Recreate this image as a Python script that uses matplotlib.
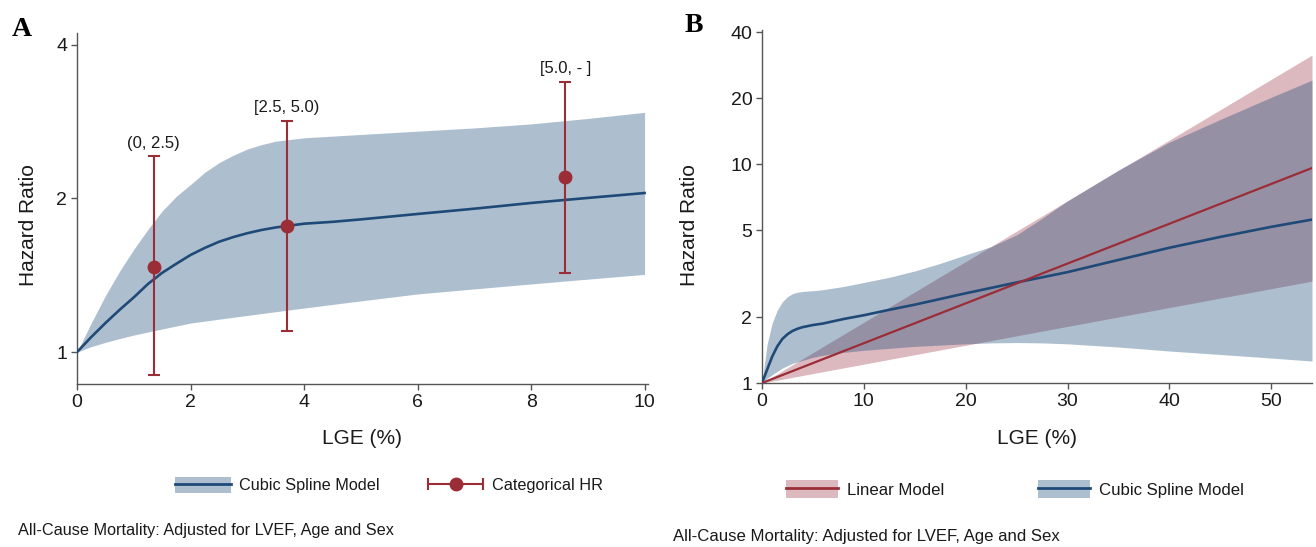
import numpy as np
import matplotlib
matplotlib.use("Agg")
import matplotlib.pyplot as plt
from matplotlib.lines import Line2D
from matplotlib.patches import Patch
from matplotlib.legend_handler import HandlerLine2D
from matplotlib.ticker import FixedLocator, FixedFormatter, NullLocator

# ---------------- Panel A data ----------------
spline_x_a = [0, 0.25, 0.5, 0.75, 1.0, 1.25, 1.5, 1.75, 2.0, 2.25, 2.5, 2.75, 3.0, 3.25,
              3.5, 3.75, 4.0, 4.5, 5.0, 6.0, 7.0, 8.0, 9.0, 10.0]
spline_hr_a = [1.00, 1.07, 1.14, 1.21, 1.28, 1.36, 1.43, 1.49, 1.55, 1.60, 1.645, 1.68, 1.71, 1.735,
               1.755, 1.77, 1.785, 1.80, 1.82, 1.865, 1.91, 1.96, 2.005, 2.05]
spline_hi_a = [1.00, 1.14, 1.29, 1.44, 1.59, 1.74, 1.89, 2.02, 2.13, 2.25, 2.35, 2.43, 2.50, 2.55,
               2.59, 2.61, 2.63, 2.65, 2.67, 2.71, 2.75, 2.80, 2.87, 2.95]
spline_lo_a = [1.00, 1.025, 1.045, 1.063, 1.08, 1.095, 1.11, 1.125, 1.14, 1.15, 1.16, 1.17, 1.18, 1.19,
               1.20, 1.21, 1.22, 1.24, 1.26, 1.30, 1.33, 1.36, 1.39, 1.42]

cat_x = [1.35, 3.7, 8.6]
cat_hr = [1.47, 1.77, 2.20]
cat_lo = [0.90, 1.10, 1.43]
cat_hi = [2.42, 2.84, 3.39]
cat_labels = ["(0, 2.5)", "[2.5, 5.0)", "[5.0, - ]"]

yticks_a = [1, 2, 4]
xticks_a = [0, 2, 4, 6, 8, 10]

# ---------------- Panel B data ----------------
spline_x_b = [0, 0.5, 1, 1.5, 2, 2.5, 3, 3.5, 4, 5, 6, 8, 10, 12.5, 15, 17.5, 20, 22.5, 25,
              27.5, 30, 35, 40, 45, 50, 54]
spline_hr_b = [1.00, 1.15, 1.32, 1.47, 1.59, 1.67, 1.73, 1.77, 1.80, 1.84, 1.87, 1.96, 2.04, 2.16,
               2.28, 2.42, 2.57, 2.72, 2.88, 3.04, 3.21, 3.65, 4.15, 4.65, 5.17, 5.58]
spline_hi_b = [1.00, 1.50, 1.88, 2.15, 2.35, 2.48, 2.56, 2.60, 2.62, 2.64, 2.67, 2.76, 2.88, 3.04,
               3.25, 3.52, 3.85, 4.20, 4.75, 5.65, 6.8, 9.4, 12.6, 16.0, 20.2, 24.2]
spline_lo_b = [1.00, 1.05, 1.09, 1.13, 1.17, 1.20, 1.23, 1.25, 1.27, 1.31, 1.34, 1.38, 1.41, 1.44,
               1.47, 1.49, 1.51, 1.525, 1.53, 1.525, 1.51, 1.46, 1.40, 1.35, 1.30, 1.26]

lin_x = [0, 54]
lin_hr = [1.0, 9.6]
lin_lo = [1.0, 2.92]
lin_hi = [1.0, 31.5]

yticks_b = [1, 2, 5, 10, 20, 40]
xticks_b = [0, 10, 20, 30, 40, 50]

# ---------------- Styles ----------------
BLUE_BAND = (21/255, 72/255, 118/255)   # drawn with alpha -> light steel blue over white
BLUE_ALPHA = 0.35
NAVY = "#1f4a78"
RED = "#9b2d37"
PINK_FILL = "#dcb8bf"
SPINE = "#555555"
TXT = "#1a1a1a"

SANS = ["Liberation Sans", "DejaVu Sans"]
SERIF = ["Liberation Serif", "DejaVu Serif"]

W, H = 1316, 547
fig = plt.figure(figsize=(W / 100, H / 100), dpi=100)


def style_axes(ax, xticks, yticks):
    for s in ["top", "right"]:
        ax.spines[s].set_visible(False)
    for s in ["left", "bottom"]:
        ax.spines[s].set_color(SPINE)
        ax.spines[s].set_linewidth(1.0)
    ax.set_yscale("log")
    ax.yaxis.set_major_locator(FixedLocator(yticks))
    ax.yaxis.set_major_formatter(FixedFormatter([str(t) for t in yticks]))
    ax.yaxis.set_minor_locator(NullLocator())
    ax.set_xticks(xticks)
    ax.set_xticklabels([str(t) for t in xticks])
    ax.tick_params(direction="out", length=4, width=1, color=SPINE,
                   labelcolor=TXT, labelsize=14, pad=3)
    for lab in ax.get_xticklabels() + ax.get_yticklabels():
        lab.set_family(SANS)


# ---------------- Panel A ----------------
axA = fig.add_axes([77 / W, 1 - 384 / H, (648 - 77) / W, (384 - 33) / H])
axA.fill_between(spline_x_a, spline_lo_a, spline_hi_a, color=BLUE_BAND, alpha=BLUE_ALPHA,
                 lw=0, zorder=1)
axA.plot(spline_x_a, spline_hr_a, color=NAVY, lw=1.9, zorder=3)
hr = np.array(cat_hr)
axA.errorbar(cat_x, cat_hr, yerr=[hr - np.array(cat_lo), np.array(cat_hi) - hr],
             fmt="o", color=RED, ms=9, capsize=4, elinewidth=1.5, capthick=1.5, zorder=4)
for x, top, lab in zip(cat_x, cat_hi, cat_labels):
    axA.annotate(lab, (x, top), xytext=(0, 4), textcoords="offset points",
                 ha="center", va="bottom", fontsize=12, family=SANS, color=TXT)
style_axes(axA, xticks_a, yticks_a)
axA.set_xlim(0, 10.06)
axA.set_ylim(0.866, 4.22)
axA.set_xlabel("LGE (%)", fontsize=15, family=SANS, color=TXT)
axA.xaxis.set_label_coords(0.5, (384 - 439) / (384 - 33))
axA.xaxis.label.set_va("center")
axA.set_ylabel("Hazard Ratio", fontsize=15, family=SANS, color=TXT)
axA.yaxis.set_label_coords((28 - 77) / (648 - 77), 0.453)
axA.yaxis.label.set_va("center")

# ---------------- Panel B ----------------
axB = fig.add_axes([762 / W, 1 - 383 / H, (1312 - 762) / W, (383 - 30) / H])
axB.fill_between(lin_x, lin_lo, lin_hi, color=PINK_FILL, lw=0, zorder=1)
axB.fill_between(spline_x_b, spline_lo_b, spline_hi_b, color=BLUE_BAND, alpha=BLUE_ALPHA,
                 lw=0, zorder=2)
axB.plot(spline_x_b, spline_hr_b, color=NAVY, lw=1.9, zorder=3)
axB.plot(lin_x, lin_hr, color=RED, lw=1.6, zorder=4)
style_axes(axB, xticks_b, yticks_b)
axB.set_xlim(0, 54)
axB.set_ylim(1, 41)
axB.set_xlabel("LGE (%)", fontsize=15, family=SANS, color=TXT)
axB.xaxis.set_label_coords(0.5, (383 - 439) / (383 - 30))
axB.xaxis.label.set_va("center")
axB.set_ylabel("Hazard Ratio", fontsize=15, family=SANS, color=TXT)
axB.yaxis.set_label_coords((690 - 762) / (1312 - 762), 0.448)
axB.yaxis.label.set_va("center")

# ---------------- Legends ----------------
h_spline_a = (Patch(facecolor=BLUE_BAND, alpha=BLUE_ALPHA, edgecolor="none"),
              Line2D([], [], color=NAVY, lw=2))
cap_line = Line2D([], [], color=RED, lw=1.5, marker="|", ms=9, mew=1.5)
dot = Line2D([], [], color=RED, marker="o", ms=9, ls="None")
h_cat = (cap_line, dot)
hmap = {cap_line: HandlerLine2D(numpoints=2, marker_pad=0.0),
        dot: HandlerLine2D(numpoints=1)}
fig.legend(handles=[h_spline_a, h_cat], labels=["Cubic Spline Model", "Categorical HR"],
           loc="center", bbox_to_anchor=(389 / W, 1 - 485 / H), ncol=2, frameon=False,
           handlelength=3.4, handleheight=1.2, columnspacing=3.0, handletextpad=0.5,
           handler_map=hmap, prop={"family": SANS, "size": 11.7}, labelcolor=TXT)

h_lin = (Patch(facecolor=PINK_FILL, edgecolor="none"), Line2D([], [], color=RED, lw=2))
h_spline_b = (Patch(facecolor=BLUE_BAND, alpha=BLUE_ALPHA, edgecolor="none"),
              Line2D([], [], color=NAVY, lw=2))
fig.legend(handles=[h_lin, h_spline_b], labels=["Linear Model", "Cubic Spline Model"],
           loc="center", bbox_to_anchor=(1015 / W, 1 - 489 / H), ncol=2, frameon=False,
           handlelength=3.1, handleheight=1.2, columnspacing=5.6, handletextpad=0.5,
           prop={"family": SANS, "size": 12.1}, labelcolor=TXT)

# ---------------- Captions & panel letters ----------------
fig.text(18 / W, 1 - 530 / H, "All-Cause Mortality: Adjusted for LVEF, Age and Sex",
         fontsize=11.7, family=SANS, color=TXT, ha="left", va="center")
fig.text(673 / W, 1 - 537 / H, "All-Cause Mortality: Adjusted for LVEF, Age and Sex",
         fontsize=12.1, family=SANS, color=TXT, ha="left", va="center")
fig.text(22 / W, 1 - 30 / H, "A", fontsize=20, family=SERIF, weight="bold",
         ha="center", va="center", color="black")
fig.text(694 / W, 1 - 25 / H, "B", fontsize=20, family=SERIF, weight="bold",
         ha="center", va="center", color="black")

fig.savefig("out.png", dpi=100, facecolor="white")
